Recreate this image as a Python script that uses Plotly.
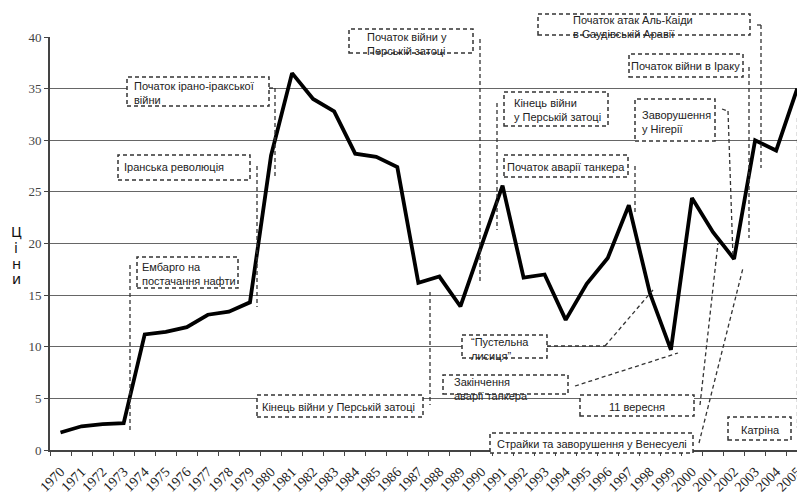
"""Oil price line chart with dashed event call-outs."""

import plotly.graph_objects as go

# Years on the category axis and the price for each year.
years = [str(y) for y in range(1970, 2006)]
prices = [
    1.7, 2.3, 2.5, 2.6, 11.2, 11.45, 11.9, 13.1, 13.4, 14.3,
    28.5, 36.5, 34.0, 32.8, 28.7, 28.4, 27.4, 16.2, 16.8, 13.9,
    19.8, 25.6, 16.7, 17.0, 12.6, 16.1, 18.6, 23.7, 15.2, 9.7,
    24.4, 21.1, 18.5, 30.0, 29.0, 35.0,
]
y_ticks = [0, 5, 10, 15, 20, 25, 30, 35, 40]

# Event call-outs: text, box (x0, y0, x1, y1) and text anchor, in page pixels.
events = [
    ("Початок ірано-іракської<br>війни", (127, 77, 269, 106), (132, 78)),
    ("Іранська революція", (118, 155, 250, 180), (122, 159)),
    ("Ембарго на<br>постачання нафти", (137, 257, 238, 288), (140, 259)),
    ("Кінець війни у Перській затоці", (257, 395, 423, 417), (260, 399)),
    ("Початок війни у<br>Перській затоці", (349, 29, 473, 53), (365, 29)),
    ("Кінець війни<br>у Перській затоці", (504, 92, 608, 126), (512, 95)),
    ("Початок аварії танкера", (504, 155, 628, 177), (505, 159)),
    ("Заворушення<br>у Нігерії", (635, 99, 715, 141), (640, 107)),
    ("Початок війни в Іраку", (629, 54, 743, 77), (629, 58)),
    ("Початок атак Аль-Каіди<br>в Саудівській Аравії", (538, 14, 750, 35), (571, 12)),
    ("Катріна", (728, 417, 791, 440), (739, 422)),
    ("Страйки та заворушення у Венесуелі", (490, 433, 693, 453), (495, 436)),
    ("11 вересня", (580, 395, 694, 416), (607, 399)),
    ("“Пустельна<br>лисиця”", (462, 335, 547, 358), (469, 334)),
    ("Закінчення<br>аварії танкера", (443, 375, 568, 394), (452, 374)),
]

# Dashed leader lines from the boxes towards the price line, in page pixels.
leaders = [
    [(269, 88), (275, 88), (275, 177)],
    [(257, 166), (257, 307)],
    [(130, 265), (130, 432)],
    [(430, 292), (430, 405)],
    [(480, 39), (480, 282)],
    [(497, 103), (497, 230)],
    [(635, 166), (635, 213)],
    [(722, 109), (728, 111), (733, 257)],
    [(749, 67), (749, 238)],
    [(757, 25), (761, 25), (761, 168)],
    [(797.5, 118), (797.5, 428)],
    [(699, 443), (743, 268)],
    [(700, 405), (718, 243)],
    [(547, 346), (605, 346), (653, 290)],
    [(575, 386), (678, 353)],
]

# Page is 805x499 but the html body adds an 8px margin on top/left.
PAGE_OFF = 8
W, H = 805 - PAGE_OFF, 499 - PAGE_OFF
PLOT_L, PLOT_R, PLOT_T, PLOT_B = 50, 805, 37, 450   # plot area in page pixels
L, T = PLOT_L - PAGE_OFF, PLOT_T - PAGE_OFF
R, B = 805 - PLOT_R, 499 - PLOT_B
PW, PH = PLOT_R - PLOT_L, PLOT_B - PLOT_T


def px(x):
    return (x - PLOT_L) / PW


def py(y):
    return (PLOT_B - y) / PH


fig = go.Figure()
fig.add_trace(
    go.Scatter(
        x=years,
        y=prices,
        mode="lines",
        line={"color": "black", "width": 3.8},
        showlegend=False,
    )
)

dash = "4px,3px"
shapes = []
for pts in leaders:
    for (xa, ya), (xb, yb) in zip(pts[:-1], pts[1:]):
        shapes.append(dict(
            type="line", xref="paper", yref="paper",
            x0=px(xa), y0=py(ya), x1=px(xb), y1=py(yb),
            line={"color": "#333", "width": 1.3, "dash": dash},
            layer="above",
        ))

annotations = []
for text, (x0, y0, x1, y1), (tx, ty) in events:
    shapes.append(dict(
        type="rect", xref="paper", yref="paper",
        x0=px(x0), y0=py(y1), x1=px(x1), y1=py(y0),
        line={"color": "#333", "width": 1.5, "dash": dash},
        fillcolor="white", layer="above",
    ))
    annotations.append(dict(
        text=text, xref="paper", yref="paper",
        x=px(tx), y=py(ty), xanchor="left", yanchor="top",
        showarrow=False, align="left",
        font={"family": "Liberation Sans, Arial, sans-serif", "size": 11, "color": "#222"},
    ))

# Vertical axis title, one letter per row.
for letter, y_pos in zip("Ціни", [232, 248, 264, 279]):
    annotations.append(dict(
        text=letter, xref="paper", yref="paper",
        x=px(16), y=py(y_pos), xanchor="center", yanchor="middle",
        showarrow=False,
        font={"family": "DejaVu Sans, sans-serif", "size": 14, "color": "#111"},
    ))

fig.update_layout(
    width=W,
    height=H,
    margin={"l": L, "r": R, "t": T, "b": B, "pad": 0},
    paper_bgcolor="white",
    plot_bgcolor="white",
    shapes=shapes,
    annotations=annotations,
    showlegend=False,
)
fig.update_xaxes(
    type="category",
    categoryorder="array",
    categoryarray=years,
    range=[-0.5, 35.37],
    tickson="boundaries",
    ticks="outside",
    ticklen=4,
    tickcolor="#444",
    tickangle=-45,
    ticklabelstandoff=6,
    tickfont={"family": "Liberation Serif, Times New Roman, serif", "size": 14, "color": "#222"},
    showgrid=False,
    showline=True,
    linecolor="#444",
    linewidth=2,
    automargin=False,
)
fig.update_yaxes(
    range=[0, 40],
    tickvals=y_ticks,
    ticks="outside",
    ticklen=4,
    tickcolor="#444",
    tickfont={"family": "Liberation Serif, Times New Roman, serif", "size": 13, "color": "#444"},
    showgrid=True,
    gridcolor="#666",
    gridwidth=1,
    zeroline=False,
    showline=True,
    linecolor="#444",
    linewidth=2,
    automargin=False,
)

fig.write_html("out.html")
